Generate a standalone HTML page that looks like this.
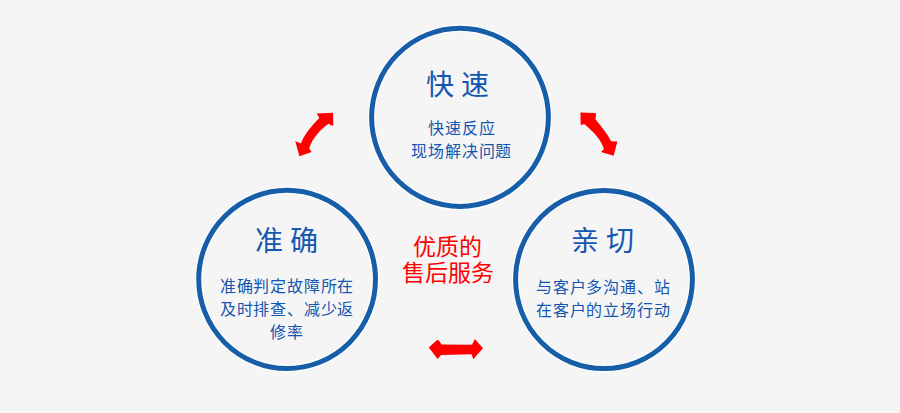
<!DOCTYPE html>
<html lang="zh-CN">
<head>
<meta charset="utf-8">
<style>
html,body{margin:0;padding:0;}
body{width:900px;height:413px;background:#f5f5f5;position:relative;overflow:hidden;font-family:"Liberation Sans",sans-serif;}
svg{position:absolute;left:0;top:0;}
.t{position:absolute;white-space:nowrap;text-align:center;color:#1456b0;}
.h{font-size:28px;line-height:30px;}
.s{font-size:16px;line-height:23px;letter-spacing:0.8px;}
.r{color:#ff0000;font-size:23px;line-height:26.3px;}
</style>
</head>
<body>
<svg width="900" height="413" viewBox="0 0 900 413">
  <g fill="none">
    <ellipse cx="460" cy="117.35" rx="88.4" ry="89.1" stroke="#ffffff" stroke-width="7.4"/>
    <ellipse cx="460" cy="117.35" rx="88.4" ry="89.1" stroke="#175ea9" stroke-width="5"/>
    <ellipse cx="287.1" cy="279.4" rx="88.4" ry="89.1" stroke="#ffffff" stroke-width="7.4"/>
    <ellipse cx="287.1" cy="279.4" rx="88.4" ry="89.1" stroke="#175ea9" stroke-width="5"/>
    <ellipse cx="604" cy="279.5" rx="88.4" ry="89.1" stroke="#ffffff" stroke-width="7.4"/>
    <ellipse cx="604" cy="279.5" rx="88.4" ry="89.1" stroke="#175ea9" stroke-width="5"/>
  </g>
  <g fill="#ff0000">
    <path d="M316.7,113.5 L333,112.7 L333.3,125.4 L330.3,125.2 L329.2,123.4 C322,127.5 312,138 309.2,148.5 L311.7,151.9 L299.4,156.3 L295.3,141.2 L301,143.4 C303,137 310,127 319.3,117.9 Z"/>
    <path d="M580.4,112.4 L594.9,113 Q596.5,113.5 596.1,114.3 L595.5,119.6 C600,125 606,132 611.1,141.2 L617.4,141.5 L613.6,155.7 L601,151.9 L603.9,149.1 C602,141 594,132 584.2,124 L580.7,125.3 Z"/>
    <path d="M428.8,347.6 L436.5,340.5 Q438,339.5 439,340.6 L441.4,344.6 L472,344.8 L474.8,339.1 L483,348.3 L473.2,359.3 L471.6,354.3 L441.1,354.9 L437.6,359 Z"/>
  </g>
</svg>
<div class="t h" style="left:357.4px;top:70.8px;width:200px;">快 速</div>
<div class="t s" style="left:361.8px;top:118.2px;width:200px;line-height:22.8px;">快速反应<br>现场解决问题</div>
<div class="t h" style="left:186.5px;top:227px;width:200px;">准 确</div>
<div class="t s" style="left:187px;top:275.2px;width:200px;">准确判定故障所在<br>及时排查、减少返<br>修率</div>
<div class="t h" style="left:502.5px;top:227px;width:200px;">亲 切</div>
<div class="t s" style="left:503.25px;top:276.2px;width:200px;">与客户多沟通、站<br>在客户的立场行动</div>
<div class="t r" style="left:347.5px;top:233.6px;width:200px;">优质的<br>售后服务</div>
</body>
</html>
